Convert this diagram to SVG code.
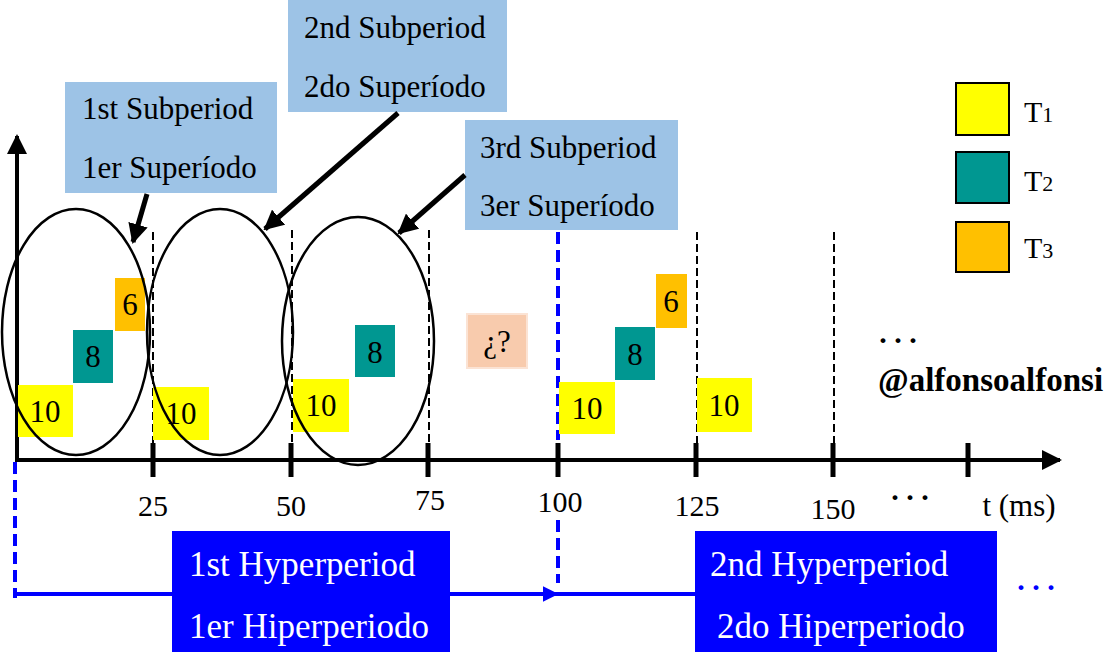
<svg xmlns="http://www.w3.org/2000/svg" width="1117" height="659" viewBox="0 0 1117 659">
<defs>
<marker id="ah" viewBox="0 0 10 10" refX="9" refY="5" markerWidth="4" markerHeight="4" orient="auto" markerUnits="strokeWidth"><path d="M0,0 L10,5 L0,10 z" fill="#000"/></marker>
<marker id="axh" viewBox="0 0 10 10" refX="9" refY="5" markerWidth="5" markerHeight="5" orient="auto" markerUnits="strokeWidth"><path d="M0,0 L10,5 L0,10 z" fill="#000"/></marker>
<marker id="bh" viewBox="0 0 10 10" refX="9" refY="5" markerWidth="4" markerHeight="4" orient="auto" markerUnits="strokeWidth"><path d="M0,0 L10,5 L0,10 z" fill="#0000ff"/></marker>
<style>
text{font-family:"Liberation Serif","Times New Roman",serif;fill:#000}
.t{font-size:31px;text-anchor:middle}
.tick{stroke:#000;stroke-width:5}
.dash{stroke:#000;stroke-width:2;stroke-dasharray:8,4}
.ell{fill:none;stroke:#000;stroke-width:2.5}
.y{fill:#ffff00}.g{fill:#009791}.o{fill:#ffc000}
.call{fill:#9dc3e6}
.ct{font-size:31px}
.hyp{fill:#0000ff}
.ht{font-size:35px;fill:#fff}
.lbl{font-size:30px;text-anchor:middle}
.arr{stroke:#000;stroke-width:5;fill:none}
</style>
</defs>
<g id="axes">
<line x1="17" y1="460" x2="17" y2="136" stroke="#000" stroke-width="4" marker-end="url(#axh)"/>
<line x1="15" y1="460" x2="1060" y2="460" stroke="#000" stroke-width="4" marker-end="url(#axh)"/>
<line class="tick" x1="153" y1="443" x2="153" y2="477"/>
<line class="tick" x1="291" y1="443" x2="291" y2="477"/>
<line class="tick" x1="428" y1="443" x2="428" y2="477"/>
<line class="tick" x1="558" y1="443" x2="558" y2="477"/>
<line class="tick" x1="696" y1="443" x2="696" y2="477"/>
<line class="tick" x1="833" y1="443" x2="833" y2="477"/>
<line class="tick" x1="968" y1="443" x2="968" y2="477"/>
<text class="lbl" x="153" y="516">25</text>
<text class="lbl" x="291" y="516">50</text>
<text class="lbl" x="430" y="510">75</text>
<text class="lbl" x="560" y="512">100</text>
<text class="lbl" x="697" y="516">125</text>
<text class="lbl" x="833" y="519">150</text>
<text class="lbl" x="910" y="500" style="font-weight:bold">. . .</text>
<text class="lbl" x="1019" y="516" style="font-size:31px">t (ms)</text>
</g>
<g id="gridlines">
<line class="dash" x1="153" y1="232" x2="153" y2="443"/>
<line class="dash" x1="292" y1="230" x2="292" y2="443"/>
<line class="dash" x1="429" y1="230" x2="429" y2="443"/>
<line class="dash" x1="697" y1="232" x2="697" y2="443"/>
<line class="dash" x1="834" y1="232" x2="834" y2="443"/>
<line x1="558" y1="232" x2="558" y2="440" stroke="#0000ff" stroke-width="4" stroke-dasharray="12,6"/>
</g>
<g id="tasks">
<rect class="y" x="18" y="385" width="55" height="52"/><text class="t" x="45" y="422">10</text>
<rect class="g" x="73" y="330" width="40" height="53"/><text class="t" x="93" y="367">8</text>
<rect class="o" x="115" y="278" width="30" height="53"/><text class="t" x="130" y="315">6</text>
<rect class="y" x="153" y="387" width="56" height="53"/><text class="t" x="181" y="424">10</text>
<rect class="y" x="293" y="379" width="56" height="53"/><text class="t" x="321" y="416">10</text>
<rect class="g" x="355" y="325" width="40" height="52"/><text class="t" x="375" y="363">8</text>
<rect x="467" y="314" width="60" height="54" fill="#f8cbad" stroke="#fbe3d4" stroke-width="2"/><text class="t" x="497" y="352">¿?</text>
<rect class="y" x="559" y="382" width="56" height="52"/><text class="t" x="587" y="419">10</text>
<rect class="g" x="615" y="327" width="40" height="53"/><text class="t" x="635" y="365">8</text>
<rect class="o" x="656" y="274" width="31" height="54"/><text class="t" x="671" y="312">6</text>
<rect class="y" x="697" y="378" width="55" height="54"/><text class="t" x="724" y="416">10</text>
</g>
<g id="ellipses">
<ellipse class="ell" cx="76" cy="332" rx="74" ry="123"/>
<ellipse class="ell" cx="220" cy="332" rx="73" ry="123"/>
<ellipse class="ell" cx="358" cy="341" rx="76" ry="124"/>
</g>
<g id="legend">
<rect class="y" x="956" y="83" width="53" height="52" stroke="#000" stroke-width="2"/>
<rect class="g" x="956" y="152" width="53" height="51" stroke="#000" stroke-width="2"/>
<rect class="o" x="956" y="222" width="53" height="50" stroke="#000" stroke-width="2"/>
<text x="1024" y="122" style="font-size:30px">T<tspan style="font-size:22px">1</tspan></text>
<text x="1024" y="191" style="font-size:30px">T<tspan style="font-size:22px">2</tspan></text>
<text x="1024" y="258" style="font-size:30px">T<tspan style="font-size:22px">3</tspan></text>
<text x="898" y="343" style="font-size:30px;font-weight:bold;text-anchor:middle">. . .</text>
<text x="878" y="391" style="font-size:33px;font-weight:bold">@alfonsoalfonsi</text>
</g>
<g id="callout1">
<rect class="call" x="65" y="82" width="212" height="111"/>
<text class="ct" x="82" y="119">1st Subperiod</text>
<text class="ct" x="82" y="178">1er Superíodo</text>
</g>
<g id="callout2">
<rect class="call" x="288" y="0" width="219" height="112"/>
<text class="ct" x="304" y="38">2nd Subperiod</text>
<text class="ct" x="304" y="97">2do Superíodo</text>
</g>
<g id="callout3">
<rect class="call" x="465" y="120" width="213" height="110"/>
<text class="ct" x="480" y="158">3rd Subperiod</text>
<text class="ct" x="480" y="216">3er Superíodo</text>
</g>
<g id="hyper1">
<rect class="hyp" x="172" y="531" width="278" height="121"/>
<text class="ht" x="189" y="576">1st Hyperperiod</text>
<text class="ht" x="189" y="638">1er Hiperperiodo</text>
</g>
<g id="hyper2">
<rect class="hyp" x="695" y="531" width="302" height="121"/>
<text class="ht" x="710" y="576">2nd Hyperperiod</text>
<text class="ht" x="717" y="638">2do Hiperperiodo</text>
</g>
<g id="connectors">
<line class="arr" x1="147" y1="194" x2="133" y2="242" marker-end="url(#ah)"/>
<line class="arr" x1="398" y1="113" x2="265" y2="229" marker-end="url(#ah)"/>
<line class="arr" x1="465" y1="175" x2="399" y2="233" marker-end="url(#ah)"/>
<line x1="15" y1="462" x2="15" y2="598" stroke="#0000ff" stroke-width="4" stroke-dasharray="12,6"/>
<line x1="558" y1="520" x2="558" y2="583" stroke="#0000ff" stroke-width="4" stroke-dasharray="12,6"/>
<line x1="15" y1="594" x2="172" y2="594" stroke="#0000ff" stroke-width="4"/>
<line x1="450" y1="594" x2="557" y2="594" stroke="#0000ff" stroke-width="4" marker-end="url(#bh)"/>
<line x1="550" y1="594" x2="695" y2="594" stroke="#0000ff" stroke-width="4"/>
<text x="1036" y="590" style="font-size:30px;font-weight:bold;fill:#0000ff;text-anchor:middle">. . .</text>
</g>
</svg>
